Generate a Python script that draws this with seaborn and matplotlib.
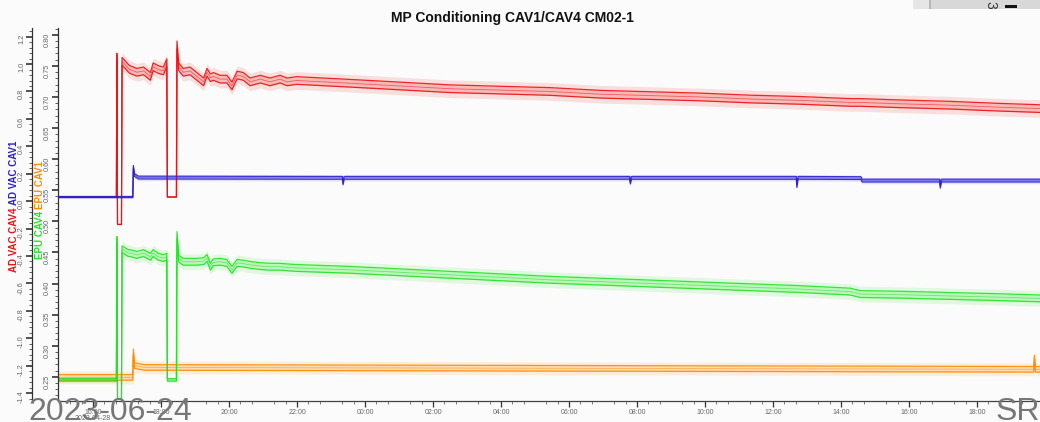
import pandas as pd
import matplotlib
matplotlib.use("Agg")
import matplotlib.pyplot as plt
import matplotlib.dates as mdates
from matplotlib.ticker import MultipleLocator, FormatStrFormatter
from matplotlib.patches import Rectangle
import seaborn as sns

sns.set_theme(style="white")
plt.rcParams["font.family"] = ["Liberation Sans", "DejaVu Sans"]

TITLE = "MP Conditioning CAV1/CAV4 CM02-1"

# ---- CAV4: AD VAC (outer axis) and EPU (inner axis) share one timeline ----
cav4_time = [
    "2023-04-28 14:58", "2023-04-28 16:41", "2023-04-28 16:42", "2023-04-28 16:43",
    "2023-04-28 16:50", "2023-04-28 16:51", "2023-04-28 17:02", "2023-04-28 17:05",
    "2023-04-28 17:17", "2023-04-28 17:29", "2023-04-28 17:41", "2023-04-28 17:46",
    "2023-04-28 17:55", "2023-04-28 18:04", "2023-04-28 18:10", "2023-04-28 18:11",
    "2023-04-28 18:27", "2023-04-28 18:28", "2023-04-28 18:31", "2023-04-28 18:39",
    "2023-04-28 18:51", "2023-04-28 19:03", "2023-04-28 19:15", "2023-04-28 19:21",
    "2023-04-28 19:27", "2023-04-28 19:32", "2023-04-28 19:44", "2023-04-28 19:56",
    "2023-04-28 20:05", "2023-04-28 20:14", "2023-04-28 20:25", "2023-04-28 20:37",
    "2023-04-28 20:55", "2023-04-28 21:12", "2023-04-28 21:30", "2023-04-28 21:42",
    "2023-04-28 21:59", "2023-04-28 23:33", "2023-04-29 01:02", "2023-04-29 02:30",
    "2023-04-29 03:58", "2023-04-29 05:26", "2023-04-29 06:55", "2023-04-29 08:23",
    "2023-04-29 09:51", "2023-04-29 11:19", "2023-04-29 12:48", "2023-04-29 14:16",
    "2023-04-29 14:34", "2023-04-29 15:44", "2023-04-29 17:12", "2023-04-29 18:40",
    "2023-04-29 19:51",
]
vac_cav4 = [
    0.030, 0.030, 1.05, -0.17,
    -0.17, 1.02, 0.97, 0.96,
    0.94, 0.95, 0.91, 0.98,
    0.96, 0.95, 1.01, 0.030,
    0.030, 1.14, 0.98, 0.94,
    0.95, 0.91, 0.87, 0.94,
    0.90, 0.91, 0.89, 0.89,
    0.84, 0.92, 0.91, 0.87,
    0.89, 0.87, 0.89, 0.87,
    0.88, 0.86, 0.84, 0.82,
    0.81, 0.80, 0.78, 0.77,
    0.76, 0.745, 0.735, 0.72,
    0.72, 0.71, 0.70, 0.685,
    0.675,
]
# min/max half-spread of the archived samples (zero while the cavity is off)
vac_cav4_spread = [
    0.0, 0.0, 0.028, 0.0,
    0.0, 0.028, 0.028, 0.028,
    0.028, 0.028, 0.028, 0.028,
    0.028, 0.028, 0.028, 0.0,
    0.0, 0.028, 0.028, 0.028,
    0.028, 0.028, 0.028, 0.028,
    0.028, 0.028, 0.028, 0.028,
    0.028, 0.028, 0.028, 0.028,
    0.028, 0.028, 0.028, 0.028,
    0.028, 0.028, 0.028, 0.028,
    0.028, 0.028, 0.028, 0.028,
    0.028, 0.028, 0.028, 0.028,
    0.028, 0.028, 0.028, 0.028,
    0.028,
]
epu_cav4 = [
    0.245, 0.245, 0.470, 0.215,
    0.215, 0.455, 0.449, 0.449,
    0.446, 0.449, 0.443, 0.449,
    0.443, 0.441, 0.443, 0.245,
    0.245, 0.478, 0.440, 0.435,
    0.435, 0.435, 0.436, 0.441,
    0.427, 0.434, 0.435, 0.433,
    0.422, 0.433, 0.432, 0.430,
    0.428, 0.427, 0.427, 0.426,
    0.425, 0.422, 0.418, 0.414,
    0.410, 0.406, 0.403, 0.400,
    0.397, 0.394, 0.391, 0.387,
    0.383, 0.382, 0.380, 0.378,
    0.376,
]
epu_cav4_spread = [
    0.002, 0.002, 0.0055, 0.0,
    0.0, 0.0055, 0.0055, 0.0055,
    0.0055, 0.0055, 0.0055, 0.0055,
    0.0055, 0.0055, 0.0055, 0.002,
    0.002, 0.0055, 0.0055, 0.0055,
    0.0055, 0.0055, 0.0055, 0.0055,
    0.0055, 0.0055, 0.0055, 0.0055,
    0.0055, 0.0055, 0.0055, 0.0055,
    0.0055, 0.0055, 0.0055, 0.0055,
    0.0055, 0.0055, 0.0055, 0.0055,
    0.0055, 0.0055, 0.0055, 0.0055,
    0.0055, 0.0055, 0.0055, 0.0055,
    0.0055, 0.0055, 0.0055, 0.0055,
    0.0055,
]

# ---- CAV1: AD VAC (outer axis) ----
vac_cav1_time = [
    "2023-04-28 14:58", "2023-04-28 17:10", "2023-04-28 17:11", "2023-04-28 17:13",
    "2023-04-28 17:20", "2023-04-28 23:20", "2023-04-28 23:21", "2023-04-28 23:23",
    "2023-04-29 07:47", "2023-04-29 07:48", "2023-04-29 07:50", "2023-04-29 12:41",
    "2023-04-29 12:42", "2023-04-29 12:44", "2023-04-29 14:35", "2023-04-29 14:37",
    "2023-04-29 16:54", "2023-04-29 16:55", "2023-04-29 16:57", "2023-04-29 19:51",
]
vac_cav1 = [
    0.030, 0.030, 0.250, 0.190,
    0.172, 0.170, 0.130, 0.170,
    0.170, 0.135, 0.170, 0.170,
    0.110, 0.170, 0.168, 0.150,
    0.150, 0.105, 0.150, 0.150,
]
vac_cav1_spread = [
    0.004, 0.004, 0.010, 0.010,
    0.010, 0.010, 0.010, 0.010,
    0.010, 0.010, 0.010, 0.010,
    0.010, 0.010, 0.010, 0.010,
    0.010, 0.010, 0.010, 0.010,
]

# ---- CAV1: EPU (inner axis) ----
epu_cav1_time = [
    "2023-04-28 14:58", "2023-04-28 17:10", "2023-04-28 17:11", "2023-04-28 17:13",
    "2023-04-28 17:30", "2023-04-29 19:40", "2023-04-29 19:41", "2023-04-29 19:43",
    "2023-04-29 19:51",
]
epu_cav1 = [
    0.249, 0.249, 0.290, 0.268,
    0.265, 0.262, 0.280, 0.262,
    0.262,
]
epu_cav1_spread = [
    0.0045, 0.0045, 0.0045, 0.0045,
    0.0045, 0.0045, 0.0045, 0.0045,
    0.0045,
]

RED = "#f01010"
BLUE = "#2a1ed2"
GREEN = "#1ee61e"
ORANGE = "#ff8a00"
BG = "#fbfbfb"
HAZE_FACTOR = 2.3

X_START = pd.Timestamp("2023-04-28 14:58")
X_END = pd.Timestamp("2023-04-29 19:51")


def draw_trace(ax, times, values, spread, color):
    df = pd.DataFrame({"time": pd.to_datetime(times), "value": values,
                       "spread": spread})
    df["lo"] = df["value"] - df["spread"]
    df["hi"] = df["value"] + df["spread"]
    haze = df["spread"] * HAZE_FACTOR
    ax.fill_between(df["time"], df["value"] - haze, df["value"] + haze,
                    color=color, alpha=0.12, linewidth=0)
    ax.fill_between(df["time"], df["lo"], df["hi"], color=color, alpha=0.18,
                    linewidth=0)
    for col, lw, a in (("lo", 0.9, 0.9), ("hi", 0.9, 0.9), ("value", 0.6, 0.55)):
        sns.lineplot(data=df, x="time", y=col, ax=ax, color=color, linewidth=lw,
                     alpha=a, estimator=None, sort=False)


W, H = 1040, 422
fig = plt.figure(figsize=(W / 100, H / 100), dpi=100, facecolor=BG)

left_px, right_px, top_px, bottom_px = 58, 1040, 28, 401
ax_epu = fig.add_axes([left_px / W, (H - bottom_px) / H,
                       (right_px - left_px) / W, (bottom_px - top_px) / H])
ax_epu.set_facecolor(BG)
ax_vac = ax_epu.twinx()
ax_vac.yaxis.set_ticks_position("left")
ax_vac.yaxis.set_label_position("left")
# outer spine sits 26 px left of the inner one (offset is given in points)
ax_vac.spines["left"].set_position(("outward", 26 * 72 / 100))

for a in (ax_epu, ax_vac):
    for s in ("top", "right"):
        a.spines[s].set_visible(False)
ax_vac.spines["bottom"].set_visible(False)
ax_vac.spines["left"].set_visible(True)
for a in (ax_epu, ax_vac):
    a.spines["left"].set_color("#333333")
    a.spines["left"].set_linewidth(0.9)
ax_epu.spines["bottom"].set_color("#444444")
ax_epu.spines["bottom"].set_linewidth(0.9)

# inner axis traces
draw_trace(ax_epu, epu_cav1_time, epu_cav1, epu_cav1_spread, ORANGE)
draw_trace(ax_epu, cav4_time, epu_cav4, epu_cav4_spread, GREEN)
# outer axis traces
draw_trace(ax_vac, cav4_time, vac_cav4, vac_cav4_spread, RED)
draw_trace(ax_vac, vac_cav1_time, vac_cav1, vac_cav1_spread, BLUE)

ax_epu.set_ylim(0.211, 0.811)
ax_vac.set_ylim(-1.458, 1.263)
ax_epu.set_xlim(X_START, X_END)
for a in (ax_epu, ax_vac):
    a.set_xlabel("")
    a.set_ylabel("")

ax_epu.yaxis.set_major_locator(MultipleLocator(0.05))
ax_epu.yaxis.set_minor_locator(MultipleLocator(0.01))
ax_epu.yaxis.set_major_formatter(FormatStrFormatter("%.2f"))
ax_vac.yaxis.set_major_locator(MultipleLocator(0.2))
ax_vac.yaxis.set_minor_locator(MultipleLocator(0.04))
ax_vac.yaxis.set_major_formatter(FormatStrFormatter("%.1f"))

for a in (ax_epu, ax_vac):
    a.tick_params(axis="y", which="major", direction="out", length=4, width=1.1,
                  color="#222222", labelsize=5.3, labelcolor="#666666",
                  labelrotation=90, pad=1, left=True, right=False,
                  labelleft=True, labelright=False)
    a.tick_params(axis="y", which="minor", direction="out", length=2, width=0.6,
                  color="#444444", left=True, right=False)

ax_epu.xaxis.set_major_locator(mdates.HourLocator(byhour=range(0, 24, 2)))
ax_epu.xaxis.set_minor_locator(mdates.MinuteLocator(byminute=[20, 40]))
ax_epu.xaxis.set_major_formatter(mdates.DateFormatter("%H:%M"))
ax_epu.tick_params(axis="x", which="major", direction="out", length=4, width=0.9,
                   color="#333333", labelsize=5, labelcolor="#666666", pad=1.5,
                   bottom=True)
ax_epu.tick_params(axis="x", which="minor", direction="out", length=2, width=0.6,
                   color="#666666", bottom=True)

ax_epu.text(mdates.date2num(pd.Timestamp("2023-04-28 16:00")), -0.048,
            "2023-04-28", transform=ax_epu.get_xaxis_transform(),
            ha="center", va="center", fontsize=5, color="#666666")

# stacked, colour-coded axis titles
fig.text(14 / W, 1 - 207 / H, "AD VAC CAV4", rotation=90, ha="center", va="top",
         fontsize=7, fontweight="bold", color=RED)
fig.text(14 / W, 1 - 205 / H, "AD VAC CAV1", rotation=90, ha="center", va="bottom",
         fontsize=7, fontweight="bold", color=BLUE)
fig.text(40 / W, 1 - 211 / H, "EPU CAV4", rotation=90, ha="center", va="top",
         fontsize=7, fontweight="bold", color=GREEN)
fig.text(40 / W, 1 - 209 / H, "EPU CAV1", rotation=90, ha="center", va="bottom",
         fontsize=7, fontweight="bold", color=ORANGE)

fig.text(512 / W, 1 - 18 / H, TITLE, ha="center", va="center",
         fontsize=10, fontweight="bold", color="#111111")

# stamp text along the bottom edge
fig.text(28 / W, 2 / H, "2023-06-24", ha="left", va="baseline",
         fontsize=23, color="#777777")
fig.text(1040 / W, 2 / H, "SR", ha="right", va="baseline",
         fontsize=23, color="#777777")

# neighbouring window edge in the top-right corner
box = Rectangle((913 / W, 1 - 9 / H), 127 / W, 9 / H, transform=fig.transFigure,
                facecolor="#d8d8d8", edgecolor="none")
fig.patches.append(box)
fig.patches.append(Rectangle((913 / W, 1 - 9 / H), 16 / W, 9 / H,
                             transform=fig.transFigure, facecolor="#e6e6e6",
                             edgecolor="none"))
fig.patches.append(Rectangle((929 / W, 1 - 9 / H), 2 / W, 9 / H,
                             transform=fig.transFigure, facecolor="#b8b8b8",
                             edgecolor="none"))
fig.patches.append(Rectangle((1005 / W, 1 - 8 / H), 12 / W, 3 / H,
                             transform=fig.transFigure, facecolor="#111111",
                             edgecolor="none"))
t = fig.text(990 / W, 1 - 1 / H, "35", rotation=-90, ha="center", va="top",
             fontsize=10, color="#333333")
t.set_clip_path(box)

fig.savefig("out.png", dpi=100, facecolor=BG)
